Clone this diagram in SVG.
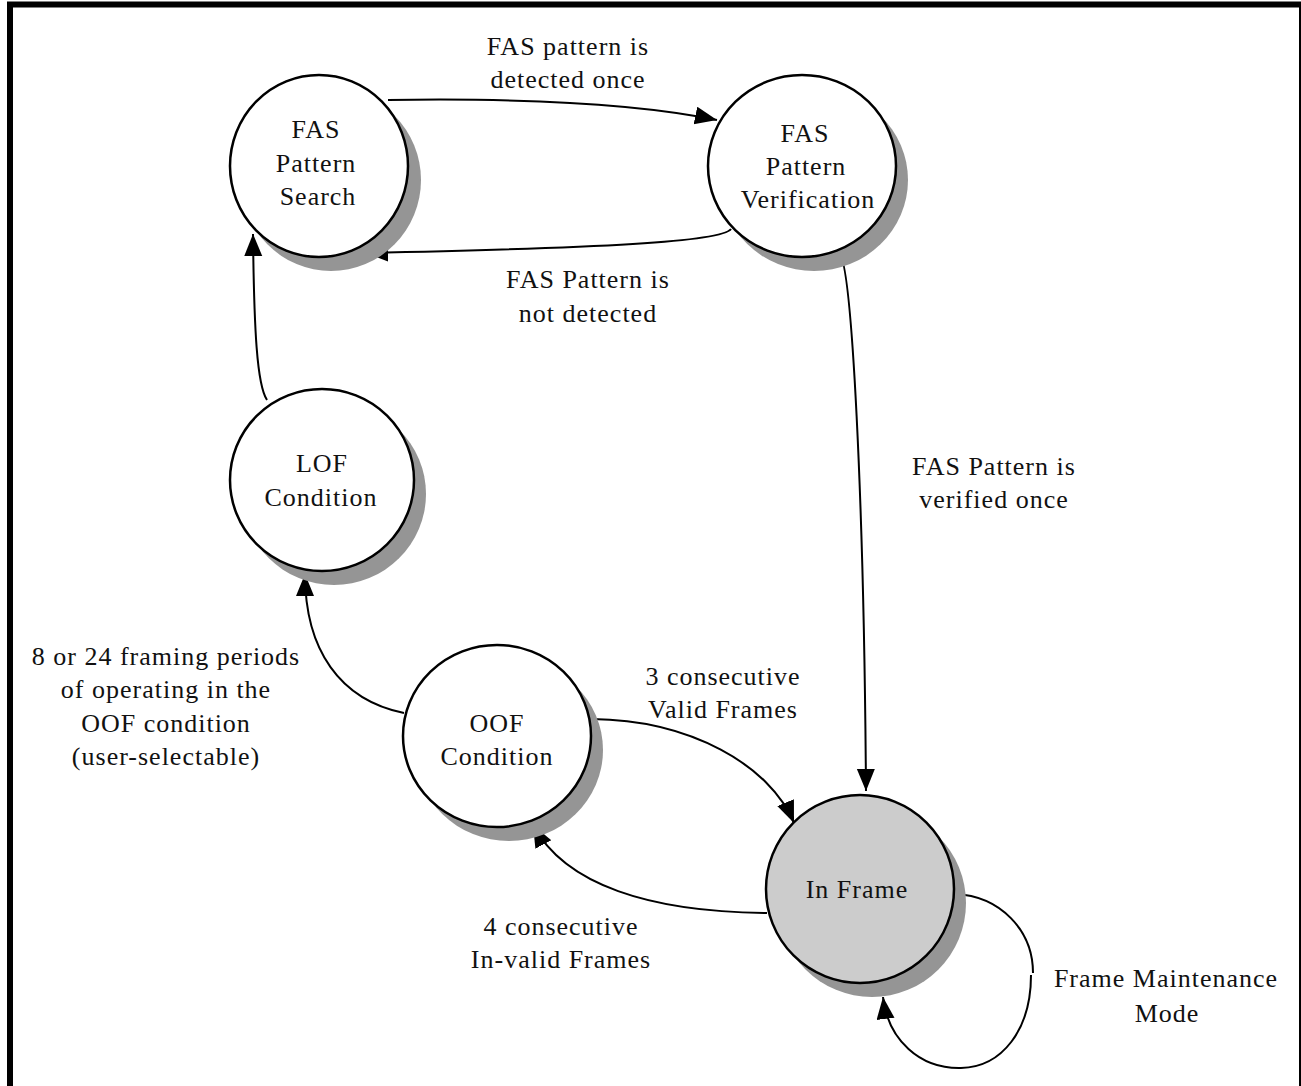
<svg xmlns="http://www.w3.org/2000/svg" width="1301" height="1086" viewBox="0 0 1301 1086">
<defs>
<style>
.shadow{fill:#959595;stroke:none}
.node{fill:#ffffff;stroke:#000;stroke-width:2.5}
.node.active{fill:#cccccc}
text{font-family:"Liberation Serif","Times New Roman",serif;font-size:26px;fill:#111;text-anchor:middle;letter-spacing:1px}
.edge{fill:none;stroke:#000;stroke-width:2}
</style>
<marker id="arrow" markerUnits="userSpaceOnUse" markerWidth="24" markerHeight="20" refX="22" refY="9" orient="auto">
<path d="M0,0 L22,9 L0,18 z" fill="#000"/>
</marker>
</defs>
<rect x="0" y="0" width="1301" height="1086" fill="#fff"/>
<rect x="10" y="4.5" width="1292" height="1100" fill="none" stroke="#000" stroke-width="6"/>

<g id="connectors">
<path class="edge" d="M388,100 C 520,98 640,104 717,120" marker-end="url(#arrow)"/>
<path class="edge" d="M731,229 C 722,242 600,248 366,253" marker-end="url(#arrow)"/>
<path class="edge" d="M267,400 C 257,385 254,330 253,234" marker-end="url(#arrow)"/>
<path class="edge" d="M839,253 C 852,262 864,500 866,791" marker-end="url(#arrow)"/>
<path class="edge" d="M404,713 C 340,700 305,650 305,574" marker-end="url(#arrow)"/>
<path class="edge" d="M592,719 C 690,720 770,765 794,823" marker-end="url(#arrow)"/>
<path class="edge" d="M767,913 C 650,912 565,885 533,825" marker-end="url(#arrow)"/>
<path class="edge" d="M955,894 C 1000,896 1033,930 1033,973"/>
<path class="edge" d="M1031,975 C 1031,1030 1002,1067 961,1068"/>
<path class="edge" d="M961,1068 C 920,1069 888,1040 883,997" marker-end="url(#arrow)"/>
</g>

<g id="node-search">
<ellipse class="shadow" cx="331" cy="180" rx="90" ry="91"/>
<ellipse class="node" cx="319" cy="166" rx="89" ry="91"/>
<text x="316" y="138">FAS</text>
<text x="316" y="172">Pattern</text>
<text x="318" y="205">Search</text>
</g>

<g id="node-verification">
<ellipse class="shadow" cx="814" cy="180" rx="94" ry="91"/>
<ellipse class="node" cx="802" cy="166" rx="94" ry="91"/>
<text x="805" y="142">FAS</text>
<text x="806" y="175">Pattern</text>
<text x="808" y="208">Verification</text>
</g>

<g id="node-lof">
<ellipse class="shadow" cx="334" cy="494" rx="92" ry="91"/>
<ellipse class="node" cx="322" cy="480" rx="92" ry="91"/>
<text x="322" y="472">LOF</text>
<text x="321" y="506">Condition</text>
</g>

<g id="node-oof">
<ellipse class="shadow" cx="509" cy="750" rx="94" ry="91"/>
<ellipse class="node" cx="497" cy="736" rx="94" ry="91"/>
<text x="497" y="732">OOF</text>
<text x="497" y="765">Condition</text>
</g>

<g id="node-inframe">
<ellipse class="shadow" cx="872" cy="903" rx="94" ry="94"/>
<ellipse class="node active" cx="860" cy="889" rx="94" ry="94"/>
<text x="857" y="898">In Frame</text>
</g>

<g id="labels">
<text x="568" y="55">FAS pattern is</text>
<text x="568" y="88">detected once</text>
<text x="588" y="288">FAS Pattern is</text>
<text x="588" y="322">not detected</text>
<text x="994" y="475">FAS Pattern is</text>
<text x="994" y="508">verified once</text>
<text x="166" y="665">8 or 24 framing periods</text>
<text x="166" y="698">of operating in the</text>
<text x="166" y="732">OOF condition</text>
<text x="166" y="765">(user-selectable)</text>
<text x="723" y="685">3 consecutive</text>
<text x="723" y="718">Valid Frames</text>
<text x="561" y="935">4 consecutive</text>
<text x="561" y="968">In-valid Frames</text>
<text x="1166" y="987">Frame Maintenance</text>
<text x="1167" y="1022">Mode</text>
</g>
</svg>
